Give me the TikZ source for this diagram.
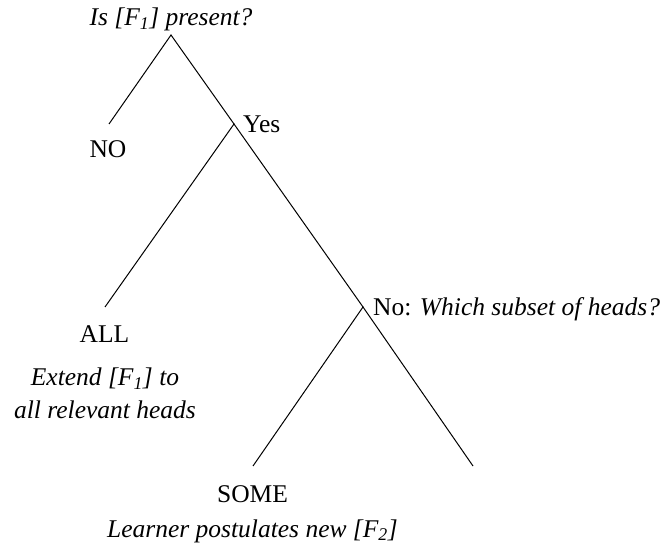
\documentclass[tikz,border=0pt]{standalone}
\usepackage{fontspec}
\setmainfont{Liberation Serif}
\begin{document}
\begin{tikzpicture}[x=1pt,y=-1pt,
  lbl/.style={inner sep=0pt,anchor=base,font=\fontsize{25.5}{31}\selectfont},
  lblw/.style={inner sep=0pt,anchor=base west,font=\fontsize{25.5}{31}\selectfont},
  branch/.style={line width=1pt,black}]
\useasboundingbox (0,0) rectangle (667,553);
% junction and end coordinates
\coordinate (apex) at (171,35);
\coordinate (noend) at (109,124);
\coordinate (yesj) at (234,124);
\coordinate (allend) at (105,307);
\coordinate (noj) at (363,307);
\coordinate (someend) at (253,466);
\coordinate (rightend) at (473,466);
% labels
\node[lbl] (root) at (171,26) {\itshape Is [F\textsubscript{1}] present?};
\node[lbl] (no) at (108,158) {NO};
\node[lblw] (yes) at (243,133) {Yes};
\node[lblw] (nosub) at (373,315.5) {No: \itshape Which subset of heads?};
\node[lbl] (all) at (104.5,343) {ALL};
\node[lbl] (ext1) at (105,386) {\itshape Extend [F\textsubscript{1}] to};
\node[lbl] (ext2) at (105,418) {\itshape all relevant heads};
\node[lbl] (some) at (252.5,502) {SOME};
\node[lbl] (learner) at (252.5,537) {\itshape Learner postulates new [F\textsubscript{2}]};
% branches
\draw[branch] (noend) -- (apex) -- (yesj);
\draw[branch] (allend) -- (yesj) -- (noj);
\draw[branch] (someend) -- (noj) -- (rightend);
\end{tikzpicture}
\end{document}
